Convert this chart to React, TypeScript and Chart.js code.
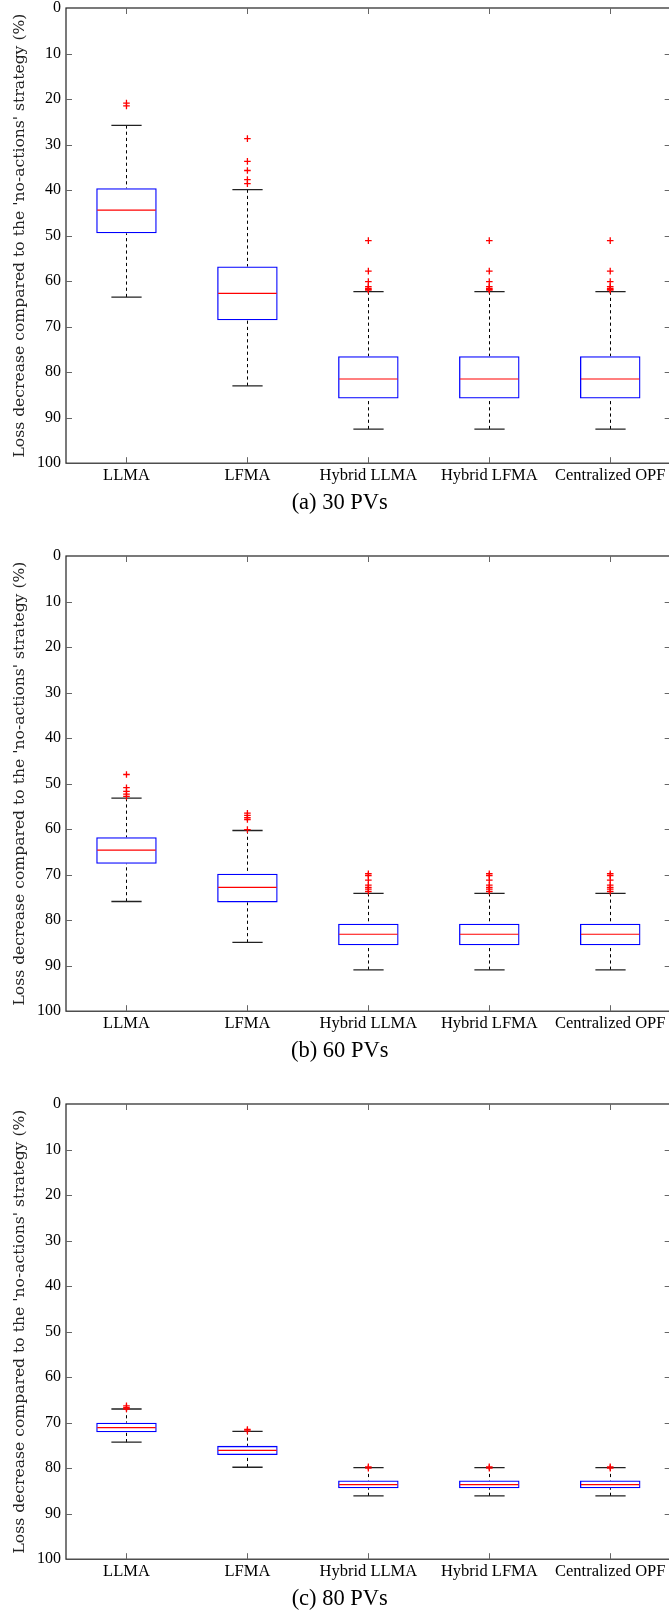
import React, { useEffect, useRef } from 'react';
import { Chart, registerables } from 'chart.js';

Chart.register(...registerables);

const categories = ['LLMA', 'LFMA', 'Hybrid LLMA', 'Hybrid LFMA', 'Centralized OPF'];
const yTickValues = [0, 10, 20, 30, 40, 50, 60, 70, 80, 90, 100];
const yTitle = "Loss decrease compared to the 'no-actions' strategy (%)";
const captions = ['(a) 30 PVs', '(b) 60 PVs', '(c) 80 PVs'];

// (a) 30 PVs
const whiskerTopA = [25.8, 39.9, 62.3, 62.3, 62.3];
const q1A = [39.6, 56.8, 76.5, 76.5, 76.5];
const medianA = [44.4, 62.7, 81.5, 81.5, 81.5];
const q3A = [49.5, 68.6, 85.8, 85.8, 85.8];
const whiskerBottomA = [63.5, 83.0, 92.5, 92.5, 92.5];
const outliersA = [
  [20.9, 21.5],
  [28.7, 33.7, 35.7, 37.7, 38.6],
  [51.1, 57.8, 60.1, 61.2, 61.6, 61.8, 62.0],
  [51.1, 57.8, 60.1, 61.2, 61.6, 61.8, 62.0],
  [51.1, 57.8, 60.1, 61.2, 61.6, 61.8, 62.0],
];

// (b) 60 PVs
const whiskerTopB = [53.2, 60.3, 74.1, 74.1, 74.1];
const q1B = [61.8, 69.8, 80.8, 80.8, 80.8];
const medianB = [64.6, 72.8, 83.1, 83.1, 83.1];
const q3B = [67.6, 76.1, 85.5, 85.5, 85.5];
const whiskerBottomB = [75.9, 84.9, 90.9, 90.9, 90.9];
const outliersB = [
  [48.0, 50.9, 51.7, 52.3, 52.8],
  [56.5, 57.0, 57.5, 57.9, 60.1],
  [69.8, 70.2, 71.2, 72.3, 72.8, 73.2, 73.7],
  [69.8, 70.2, 71.2, 72.3, 72.8, 73.2, 73.7],
  [69.8, 70.2, 71.2, 72.3, 72.8, 73.2, 73.7],
];

// (c) 80 PVs
const whiskerTopC = [67.0, 71.9, 79.9, 79.9, 79.9];
const q1C = [70.0, 75.1, 82.7, 82.7, 82.7];
const medianC = [71.1, 76.1, 83.6, 83.6, 83.6];
const q3C = [72.1, 77.1, 84.4, 84.4, 84.4];
const whiskerBottomC = [74.3, 79.8, 86.1, 86.1, 86.1];
const outliersC = [
  [66.3, 66.7, 67.0],
  [71.5, 71.8],
  [79.7, 80.0],
  [79.7, 80.0],
  [79.7, 80.0],
];

const panels = [
  { caption: captions[0], wTop: whiskerTopA, q1: q1A, med: medianA, q3: q3A, wBot: whiskerBottomA, out: outliersA },
  { caption: captions[1], wTop: whiskerTopB, q1: q1B, med: medianB, q3: q3B, wBot: whiskerBottomB, out: outliersB },
  { caption: captions[2], wTop: whiskerTopC, q1: q1C, med: medianC, q3: q3C, wBot: whiskerBottomC, out: outliersC },
];

const boxPlotPlugin = {
  id: 'boxParts',
  beforeDatasetsDraw(chart: any) {
    const o = chart.options.plugins.boxParts;
    const { ctx, scales } = chart;
    const x = scales.x;
    const y = scales.y;
    const step = x.getPixelForValue(1) - x.getPixelForValue(0);
    const halfCap = step * 0.125;
    ctx.save();
    for (let i = 0; i < categories.length; i++) {
      const cx = Math.round(x.getPixelForValue(i)) + 0.5;
      ctx.strokeStyle = '#000';
      ctx.lineWidth = 1;
      ctx.setLineDash([3.2, 3]);
      ctx.beginPath();
      ctx.moveTo(cx, y.getPixelForValue(o.wTop[i]));
      ctx.lineTo(cx, y.getPixelForValue(o.q1[i]));
      ctx.moveTo(cx, y.getPixelForValue(o.wBot[i]));
      ctx.lineTo(cx, y.getPixelForValue(o.q3[i]));
      ctx.stroke();
      ctx.setLineDash([]);
      ctx.lineWidth = 1.3;
      ctx.strokeStyle = '#222';
      ctx.beginPath();
      const yt = y.getPixelForValue(o.wTop[i]);
      const yb = y.getPixelForValue(o.wBot[i]);
      ctx.moveTo(cx - halfCap, yt);
      ctx.lineTo(cx + halfCap, yt);
      ctx.moveTo(cx - halfCap, yb);
      ctx.lineTo(cx + halfCap, yb);
      ctx.stroke();
    }
    ctx.restore();
  },
  afterDatasetsDraw(chart: any) {
    const o = chart.options.plugins.boxParts;
    const { ctx, scales, chartArea: a } = chart;
    const x = scales.x;
    const y = scales.y;
    const step = x.getPixelForValue(1) - x.getPixelForValue(0);
    const halfBox = step * 0.25;
    ctx.save();
    ctx.strokeStyle = '#ff0000';
    ctx.lineWidth = 1.2;
    for (let i = 0; i < categories.length; i++) {
      const cx = x.getPixelForValue(i);
      const ym = y.getPixelForValue(o.med[i]);
      ctx.beginPath();
      ctx.moveTo(cx - halfBox + 1, ym);
      ctx.lineTo(cx + halfBox - 1, ym);
      ctx.stroke();
    }
    // frame
    ctx.strokeStyle = '#222';
    ctx.lineWidth = 1.2;
    ctx.strokeRect(a.left, a.top, a.right - a.left, a.bottom - a.top);
    // inward ticks
    ctx.strokeStyle = '#666';
    ctx.lineWidth = 1;
    const tl = 6;
    ctx.beginPath();
    for (const v of yTickValues) {
      if (v === 0 || v === 100) continue;
      const py = Math.round(y.getPixelForValue(v)) + 0.5;
      ctx.moveTo(a.left, py);
      ctx.lineTo(a.left + tl, py);
      ctx.moveTo(a.right, py);
      ctx.lineTo(a.right - tl, py);
    }
    for (let i = 0; i < categories.length; i++) {
      const px = Math.round(x.getPixelForValue(i)) + 0.5;
      ctx.moveTo(px, a.bottom);
      ctx.lineTo(px, a.bottom - tl);
      ctx.moveTo(px, a.top);
      ctx.lineTo(px, a.top + tl);
    }
    ctx.stroke();
    ctx.restore();
  },
};

function Panel({ p, top }: { p: any; top: number }) {
  const ref = useRef<HTMLCanvasElement | null>(null);
  useEffect(() => {
    if (!ref.current) return;
    const outlierPoints: { x: string; y: number }[] = [];
    p.out.forEach((arr: number[], i: number) => {
      arr.forEach((v) => outlierPoints.push({ x: categories[i], y: v }));
    });
    const chart = new Chart(ref.current, {
      type: 'bar',
      data: {
        labels: categories,
        datasets: [
          {
            type: 'bar',
            data: categories.map((_, i) => [p.q1[i], p.q3[i]]) as any,
            backgroundColor: 'rgba(255,255,255,0)',
            borderColor: '#0000ff',
            borderWidth: 1.3,
            borderSkipped: false,
            categoryPercentage: 1,
            barPercentage: 0.5,
            order: 2,
          } as any,
          {
            type: 'line',
            data: outlierPoints as any,
            showLine: false,
            pointStyle: 'cross',
            pointRadius: 3.3,
            pointBorderColor: '#ff0000',
            pointBackgroundColor: '#ff0000',
            pointBorderWidth: 1.3,
            order: 1,
          } as any,
        ],
      },
      options: {
        responsive: false,
        animation: false,
        events: [],
        layout: { padding: { top: 8, left: 7, right: 3.5, bottom: 0 } },
        plugins: {
          legend: { display: false },
          tooltip: { enabled: false },
          title: {
            display: true,
            text: p.caption,
            position: 'bottom',
            color: '#000',
            font: { family: 'Liberation Serif', size: 22.5, weight: 'normal', lineHeight: 1.2 },
            padding: { top: 3, bottom: 31 },
          },
          boxParts: p,
        } as any,
        scales: {
          x: {
            type: 'category',
            offset: true,
            grid: { display: false, drawTicks: false },
            border: { display: false },
            ticks: {
              color: '#000',
              font: { family: 'Liberation Serif', size: 16.5, lineHeight: 1.2 },
              padding: 3,
              maxRotation: 0,
              autoSkip: false,
            },
            afterFit: (axis: any) => {
              axis.height = 23.8;
            },
          },
          y: {
            type: 'linear',
            reverse: true,
            min: 0,
            max: 100,
            grid: { display: false, drawTicks: false },
            border: { display: false },
            ticks: {
              stepSize: 10,
              color: '#000',
              font: { family: 'Liberation Serif', size: 16, lineHeight: 1 },
              padding: 5,
            },
            title: {
              display: true,
              text: yTitle,
              color: '#222',
              font: { family: 'DejaVu Serif', size: 15.6, lineHeight: 1.2 },
              padding: { top: 3.5, bottom: 0 },
            },
            afterFit: (axis: any) => {
              axis.width = 59;
              axis.paddingTop = 6;
              axis.paddingBottom = 6;
            },
          },
        },
      } as any,
      plugins: [boxPlotPlugin as any],
    });
    return () => chart.destroy();
  }, [p]);
  return (
    <div style={{ position: 'absolute', left: 0, top, width: 676, height: 548 }}>
      <canvas ref={ref} width={676} height={548} style={{ display: 'block' }} />
    </div>
  );
}

export default function App() {
  return (
    <div
      style={{
        position: 'absolute',
        left: 0,
        top: 0,
        width: 669,
        height: 1614,
        overflow: 'hidden',
        background: '#fff',
      }}
    >
      {panels.map((p, i) => (
        <Panel key={i} p={p} top={i * 548} />
      ))}
    </div>
  );
}
